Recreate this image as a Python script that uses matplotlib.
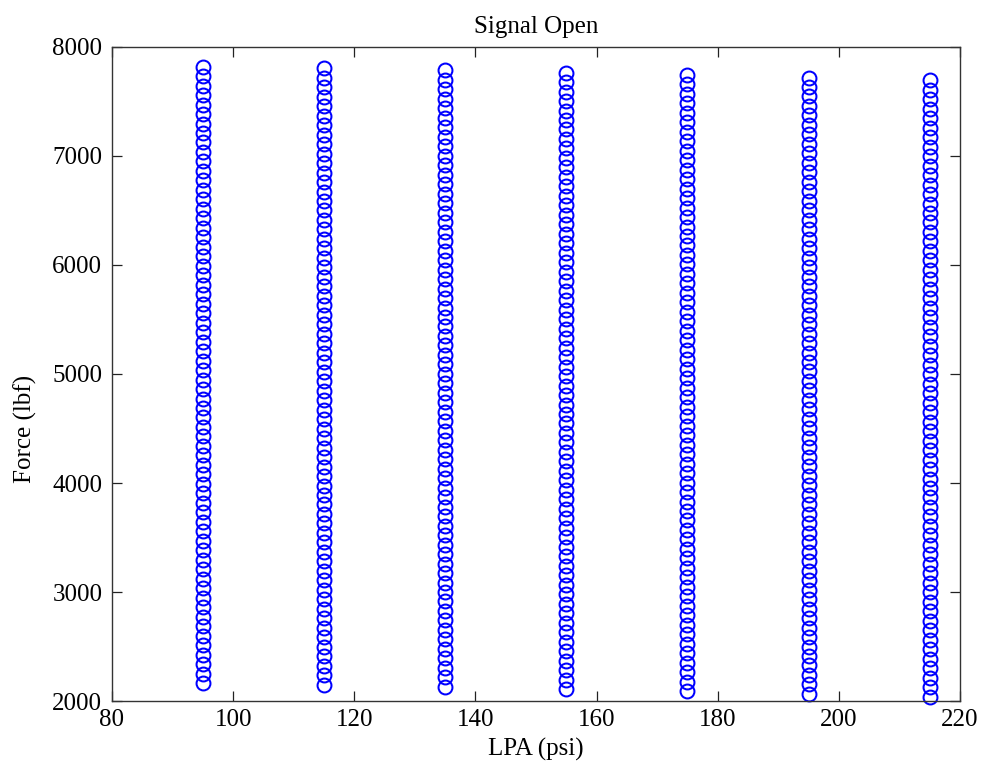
import matplotlib
matplotlib.use("Agg")
import matplotlib.pyplot as plt

# LPA set points (psi)
lpa_levels = [95, 115, 135, 155, 175, 195, 215]

# Lowest force recorded at each LPA set point (lbf)
force_base = [2165, 2150, 2130, 2110, 2090, 2065, 2040]

# Force increments above the lowest value along each sweep (lbf)
force_rel = [0, 87, 174, 261, 348, 435, 522, 609, 696, 783, 870, 957, 1044,
             1131, 1218, 1305, 1392, 1479, 1566, 1653, 1740, 1827, 1914,
             2001, 2088, 2175, 2262, 2349, 2436, 2523, 2610, 2697, 2784,
             2871, 2958, 3045, 3132, 3219, 3306, 3393, 3480, 3567, 3654,
             3741, 3828, 3915, 4002, 4089, 4176, 4263, 4350, 4437, 4524,
             4611, 4698, 4785, 4872, 4959, 5046, 5133, 5220, 5307, 5394,
             5481, 5568, 5655]

x_ticks = [80, 100, 120, 140, 160, 180, 200, 220]
y_ticks = [2000, 3000, 4000, 5000, 6000, 7000, 8000]

plt.rcParams['font.family'] = ['Liberation Serif', 'DejaVu Serif']

fig = plt.figure(figsize=(9.84, 7.74), dpi=100)
ax = fig.add_axes([0.1138, 0.0943, 0.8618, 0.845])

for lpa, base in zip(lpa_levels, force_base):
    xs = [lpa] * len(force_rel)
    ys = [base + r for r in force_rel]
    ax.plot(xs, ys, linestyle='none', marker='o', markersize=10.0,
            markerfacecolor='none', markeredgecolor='#0000ff',
            markeredgewidth=1.45, clip_on=False)

ax.set_xlim(80, 220)
ax.set_ylim(2000, 8000)
ax.set_xticks(x_ticks)
ax.set_yticks(y_ticks)
ax.tick_params(direction='in', length=7, width=0.9, top=True, right=True,
               labelsize=18, colors='#222222', labelcolor='black')
ax.tick_params(axis='x', pad=6)
ax.tick_params(axis='y', pad=7)
for s in ax.spines.values():
    s.set_color('#333333')
    s.set_linewidth(1.0)

ax.set_xlabel('LPA (psi)', fontsize=18, labelpad=5)
ax.set_ylabel('Force (lbf)', fontsize=18)
ax.yaxis.set_label_coords(-0.089, 0.416)
ax.set_title('Signal Open', fontsize=18, pad=10)

fig.savefig('out.png', dpi=100)
